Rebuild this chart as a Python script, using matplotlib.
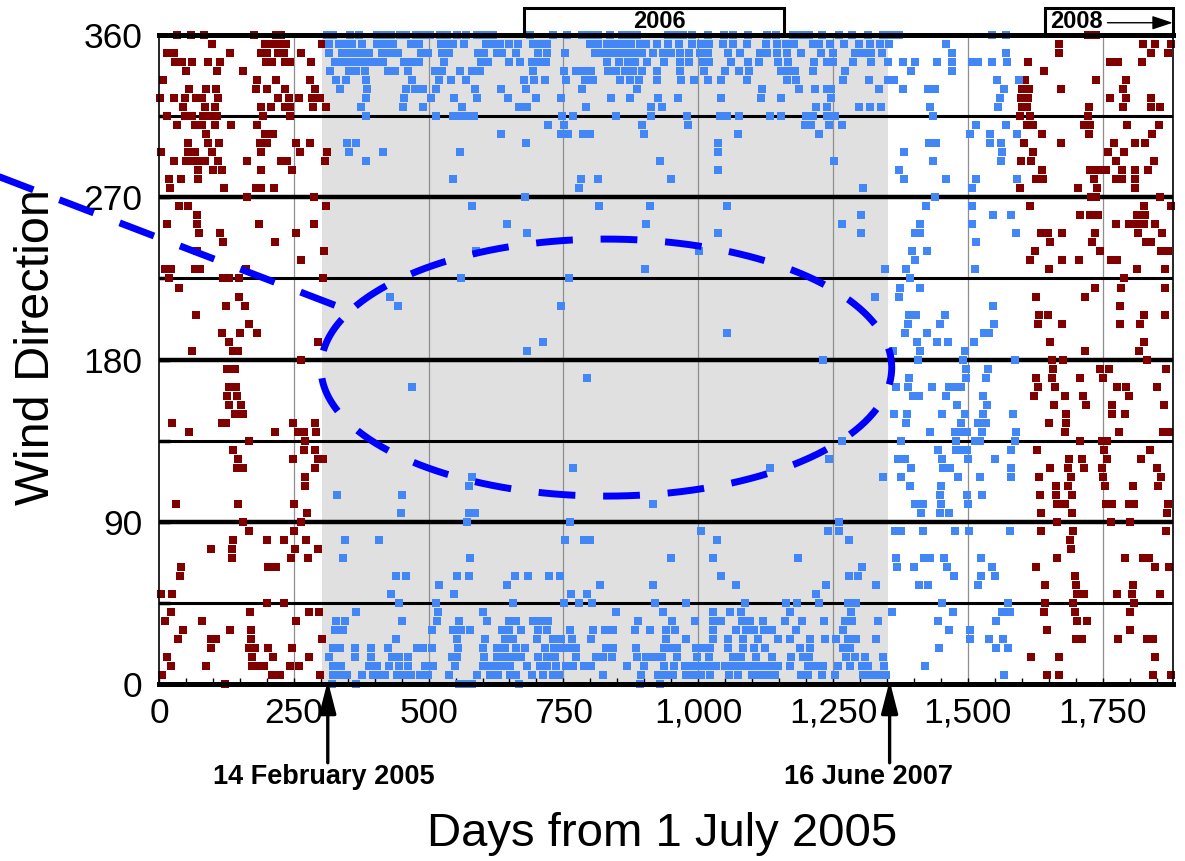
import matplotlib
matplotlib.use("Agg")
import matplotlib.pyplot as plt
import numpy as np
from matplotlib.patches import Rectangle
from matplotlib.ticker import MultipleLocator, FuncFormatter

plt.rcParams['font.family'] = ['Liberation Sans', 'DejaVu Sans']

# Wind direction bins (degrees) and the days on which each was observed
directions = list(range(360, -1, -5))

blue_days = [
    [311, 323, 354, 371, 404, 417, 431, 447, 459, 476, 490, 502, 521, 535, 553, 570, 590, 604, 619, 688, 731, 756,
     785, 799, 814, 836, 858, 872, 886, 944, 958, 972, 988, 1018, 1047, 1065, 1093, 1127, 1145, 1176, 1191, 1206,
     1229, 1261, 1286, 1315, 1343, 1358, 1372, 1544, 1570],                                   # 360
    [315, 334, 348, 358, 376, 404, 419, 434, 467, 483, 523, 535, 546, 566, 606, 617, 632, 650, 666, 694, 706, 719,
     799, 814, 830, 845, 861, 876, 892, 904, 924, 944, 965, 989, 1005, 1020, 1046, 1064, 1090, 1125, 1146, 1162,
     1177, 1212, 1224, 1245, 1271, 1298, 1318, 1337, 1354, 1460],                             # 355
    [316, 340, 352, 365, 376, 390, 413, 428, 444, 485, 499, 524, 538, 592, 603, 626, 637, 663, 703, 719, 753, 808,
     822, 837, 852, 866, 881, 895, 916, 935, 950, 966, 983, 1004, 1018, 1056, 1077, 1114, 1128, 1146, 1164, 1191,
     1227, 1250, 1290, 1306, 1321, 1340, 1470, 1571],                                         # 350
    [326, 339, 354, 366, 379, 394, 407, 416, 455, 468, 483, 528, 598, 611, 649, 669, 691, 703, 718, 830, 853, 870,
     882, 905, 936, 967, 983, 1008, 1020, 1060, 1093, 1113, 1148, 1167, 1214, 1238, 1250, 1287, 1320, 1352, 1379,
     1402, 1442, 1470, 1507, 1519, 1544, 1573],                                               # 345
    [317, 352, 366, 382, 424, 438, 461, 512, 524, 559, 580, 595, 693, 751, 773, 787, 802, 833, 848, 864, 879, 895,
     923, 966, 1011, 1049, 1075, 1094, 1154, 1167, 1179, 1212, 1272, 1394, 1470],             # 340
    [328, 346, 384, 470, 520, 541, 569, 677, 696, 716, 755, 790, 805, 855, 873, 890, 923, 969, 992, 1018, 1043,
     1091, 1164, 1181, 1269, 1316, 1352, 1363, 1554, 1595],                                   # 335
    [336, 385, 459, 475, 489, 513, 586, 635, 680, 785, 887, 1119, 1187, 1216, 1238, 1247, 1335, 1380, 1426, 1439,
     1567],                                                                                   # 330
    [384, 455, 504, 547, 589, 648, 699, 746, 839, 874, 926, 963, 1043, 1116, 1153, 1247, 1559],  # 325
    [374, 452, 490, 562, 667, 682, 792, 912, 933, 1219, 1238, 1298, 1318, 1339, 1429, 1556],      # 320
    [384, 513, 545, 555, 569, 584, 748, 768, 847, 912, 980, 1041, 1054, 1075, 1133, 1153, 1200, 1213, 1239,
     1253, 1436],                                                                             # 315
    [721, 751, 895, 981, 1198, 1210, 1243, 1266, 1516, 1570],                                 # 310
    [634, 746, 759, 787, 799, 899, 1073, 1224, 1505, 1542, 1592],                             # 305
    [349, 365, 680, 1037, 1428, 1441, 1541, 1562],                                            # 300
    [352, 416, 558, 1036, 1381, 1564],                                                        # 295
    [383, 930, 1251, 1436, 1561],                                                             # 290
    [1037, 1372],                                                                             # 285
    [546, 782, 814, 949, 1382, 1460, 1515, 1591],                                             # 280
    [779, 1306, 1507],                                                                        # 275
    [679, 1439],                                                                              # 270
    [580, 816, 910, 1053, 1423, 1508],                                                        # 265
    [1301, 1547, 1581],                                                                       # 260
    [646, 903, 1266, 1411, 1508],                                                             # 255
    [682, 1037, 1301, 1402, 1412, 1590],                                                      # 250
    [1515],                                                                                   # 245
    [587, 1002, 1397, 1424],                                                                  # 240
    [1402],                                                                                   # 235
    [902, 1346, 1385, 1513],                                                                  # 230
    [561, 761, 1392],                                                                         # 225
    [1375, 1411],                                                                             # 220
    [428, 1328, 1373],                                                                        # 215
    [444, 745, 1547],                                                                         # 210
    [1391, 1403, 1458],                                                                       # 205
    [1389, 1448, 1548],                                                                       # 200
    [1054, 1383, 1425, 1530, 1539],                                                           # 195
    [713, 1405, 1442, 1463, 1511],                                                            # 190
    [683, 1361, 1412, 1494],                                                                  # 185
    [1232, 1407, 1492, 1587],                                                                 # 180
    [1496, 1538],                                                                             # 175
    [794, 1391, 1496, 1533],                                                                  # 170
    [470, 1366, 1389, 1434, 1466, 1478, 1488],                                                # 165
    [1399, 1410, 1459, 1529],                                                                 # 160
    [1480, 1535],                                                                             # 155
    [1363, 1387, 1453, 1494, 1528, 1584],                                                     # 150
    [1386, 1488, 1519, 1533],                                                                 # 145
    [1429, 1476, 1488, 1499, 1527, 1589],                                                     # 140
    [1267, 1376, 1479, 1513, 1522, 1587],                                                     # 135
    [1444, 1478, 1490, 1499, 1580],                                                           # 130
    [1242, 1371, 1383, 1452, 1500, 1550],                                                     # 125
    [767, 1134, 1395, 1454, 1467, 1581],                                                      # 120
    [581, 1343, 1377, 1482, 1522, 1581],                                                      # 115
    [574, 1392, 1450],                                                                        # 110
    [331, 450, 1449, 1499, 1526],                                                             # 105
    [916, 1402, 1417, 1451, 1500],                                                            # 100
    [448, 574, 586, 1414, 1449, 1466],                                                        # 95
    [572, 762, 1261],                                                                         # 90
    [1006, 1241, 1261, 1365, 1377, 1417, 1476, 1502, 1578],                                   # 85
    [345, 408, 753, 789, 799, 1034, 1280],                                                    # 80
    [],                                                                                       # 75
    [342, 577, 950, 1028, 1185, 1366, 1419, 1429, 1455, 1524],                                # 70
    [1303, 1369, 1400, 1462, 1544],                                                           # 65
    [439, 458, 553, 575, 661, 684, 723, 743, 1042, 1279, 1297, 1474, 1525, 1551],             # 60
    [519, 646, 818, 916, 1071, 1237, 1329, 1410, 1426, 1518],                                 # 55
    [431, 548, 765, 793, 1218],                                                               # 50
    [445, 513, 657, 751, 779, 803, 919, 977, 1086, 1162, 1183, 1224, 1278, 1293, 1453, 1575], # 45
    [366, 518, 600, 848, 935, 1028, 1059, 1079, 1170, 1284, 1360, 1473, 1564, 1578],          # 40
    [329, 345, 450, 516, 557, 609, 649, 662, 693, 706, 722, 889, 952, 994, 1028, 1043, 1082, 1096, 1120,
     1161, 1193, 1233, 1272, 1286, 1334, 1445, 1553],                                         # 35
    [326, 342, 507, 545, 561, 577, 637, 650, 671, 703, 719, 763, 805, 827, 842, 882, 910, 941, 957, 1028,
     1071, 1088, 1103, 1122, 1136, 1182, 1268, 1466, 1504],                                   # 30
    [439, 552, 604, 642, 657, 701, 730, 745, 766, 802, 941, 978, 1028, 1055, 1083, 1111, 1148, 1170, 1207,
     1235, 1256, 1278, 1292, 1329, 1504, 1539, 1565],                                         # 25
    [322, 336, 363, 393, 424, 478, 490, 507, 555, 600, 626, 642, 662, 679, 716, 732, 745, 761, 774, 829, 842,
     884, 936, 949, 961, 995, 1008, 1022, 1056, 1083, 1104, 1124, 1188, 1207, 1268, 1281, 1447, 1553, 1575],  # 20
    [316, 363, 393, 433, 446, 462, 543, 553, 603, 626, 642, 657, 672, 703, 719, 734, 774, 810, 824, 841, 887,
     904, 918, 932, 961, 997, 1020, 1065, 1080, 1107, 1136, 1173, 1195, 1206, 1275, 1290, 1309, 1343],  # 15
    [323, 337, 390, 405, 427, 446, 462, 493, 509, 549, 601, 611, 623, 637, 651, 682, 706, 720, 736, 755, 767,
     788, 802, 868, 900, 936, 955, 975, 989, 1003, 1018, 1033, 1049, 1064, 1077, 1091, 1105, 1119, 1133, 1148,
     1171, 1204, 1218, 1232, 1259, 1281, 1303, 1315, 1345, 1421],                             # 10
    [322, 334, 348, 377, 397, 410, 419, 441, 453, 468, 484, 499, 538, 589, 614, 629, 651, 663, 691, 713, 731,
     742, 824, 894, 926, 940, 954, 978, 991, 1006, 1022, 1057, 1074, 1099, 1113, 1128, 1142, 1191, 1204, 1229,
     1253, 1306, 1319, 1334, 1348, 1567],                                                     # 5
    [321, 365, 557, 570, 581, 668, 892, 930],                                                 # 0
]

red_days = [
    [34, 59, 83, 176, 217, 226, 1722, 1738],                                  # 360
    [98, 197, 209, 224, 235, 302, 1669, 1825, 1848, 1877],                    # 355
    [14, 28, 132, 190, 201, 221, 231, 263, 1670, 1840, 1871],                 # 350
    [30, 43, 61, 90, 114, 198, 209, 234, 243, 282, 1612, 1763, 1779, 1823],   # 345
    [50, 107, 156, 1641],                                                     # 340
    [7, 181, 217, 280, 1607, 1738, 1794],                                     # 335
    [56, 87, 106, 179, 201, 234, 290, 1601, 1613, 1672, 1787],                # 330
    [2, 27, 48, 69, 80, 109, 221, 242, 260, 283, 298, 1599, 1612, 1763, 1794, 1839],  # 325
    [45, 85, 103, 190, 208, 234, 243, 285, 310, 1601, 1610, 1725, 1788, 1840, 1856],  # 320
    [14, 48, 62, 82, 95, 107, 193, 243, 1596, 1615, 1723],                    # 315
    [33, 67, 80, 104, 133, 181, 1609, 1621, 1715, 1727, 1795, 1855],          # 310
    [87, 197, 212, 1638, 1724, 1842],                                         # 305
    [54, 91, 111, 187, 200, 255, 280, 1604, 1672, 1771, 1811, 1828],          # 300
    [3, 54, 67, 99, 190, 261, 311, 1621, 1760, 1789],                         # 295
    [28, 51, 61, 76, 85, 110, 163, 227, 238, 308, 1599, 1618, 1774, 1845],    # 290
    [73, 101, 116, 189, 247, 1638, 1727, 1741, 1757, 1786, 1811, 1835],       # 285
    [19, 41, 73, 1627, 1640, 1734, 1774, 1786, 1810],                         # 280
    [20, 121, 180, 190, 214, 1596, 1704, 1740, 1810],                         # 275
    [164, 287, 1728, 1738, 1857],                                             # 270
    [38, 53, 309, 1615, 1826, 1877],                                          # 265
    [70, 1708, 1726, 1742, 1813, 1828],                                       # 260
    [15, 71, 185, 287, 1774, 1799, 1812, 1827, 1847],                         # 255
    [75, 113, 255, 1636, 1649, 1674, 1735, 1816, 1861],                       # 250
    [119, 215, 1653, 1731, 1831, 1840],                                       # 245
    [70, 306, 1624, 1745, 1859, 1871],                                        # 240
    [264, 1616, 1675, 1706, 1766, 1777],                                      # 235
    [11, 22, 67, 76, 161, 1651, 1813, 1865],                                  # 230
    [18, 119, 129, 149, 305, 1790],                                           # 225
    [37, 1735, 1785, 1865],                                                   # 220
    [148, 1626, 1717],                                                        # 215
    [125, 159, 1783],                                                         # 210
    [68, 1632, 1649, 1826, 1866],                                             # 205
    [166, 1630, 1675, 1782, 1820],                                            # 200
    [116, 151, 181],                                                          # 195
    [130, 294, 1653, 1827],                                                   # 190
    [61, 138, 147, 1718, 1817],                                               # 185
    [264, 1657, 1677, 1832],                                                  # 180
    [127, 141, 1658, 1746, 1762, 1868],                                       # 175
    [1626, 1657, 1709, 1750],                                                 # 170
    [130, 143, 1630, 1661, 1777, 1793, 1850],                                 # 165
    [127, 144, 1622, 1680, 1714, 1799],                                       # 160
    [129, 152, 1660, 1720, 1768, 1863],                                       # 155
    [141, 155, 1683, 1768, 1792],                                             # 150
    [25, 116, 125, 248, 290, 1651, 1683],                                     # 145
    [56, 216, 257, 269, 292, 1681, 1780, 1862, 1874],                         # 140
    [167, 271, 1709, 1748, 1759],                                             # 135
    [138, 268, 289, 1628, 1752, 1837],                                        # 130
    [147, 249, 294, 305, 1687, 1711, 1759, 1821],                             # 125
    [145, 155, 290, 1652, 1686, 1716, 1748, 1851],                            # 120
    [271, 1632, 1692, 1751, 1859],                                            # 115
    [271, 1664, 1686, 1754, 1806, 1853],                                      # 110
    [1633, 1663, 1693],                                                       # 105
    [32, 146, 251, 1666, 1680, 1756, 1768, 1799, 1809, 1871],                 # 100
    [274, 1635, 1693, 1869],                                                  # 95
    [156, 263, 1665, 1765, 1800],                                             # 90
    [167, 250, 1635, 1695, 1868],                                             # 85
    [137, 201, 232, 273, 1689],                                               # 80
    [96, 135, 252, 295, 1691],                                                # 75
    [136, 245, 276, 1666, 1791, 1825, 1836],                                  # 70
    [40, 203, 217, 1627, 1847, 1874],                                         # 65
    [39, 1698],                                                               # 60
    [1643, 1700, 1806],                                                       # 55
    [3, 25, 1703, 1715, 1777, 1805, 1856],                                    # 50
    [200, 232, 1644, 1696, 1808],                                             # 45
    [22, 168, 278, 297, 1641, 1698, 1801],                                    # 40
    [12, 80, 255, 1703, 1721],                                                # 35
    [45, 132, 170, 1646, 1801],                                               # 30
    [36, 96, 105, 171, 303, 1700, 1711, 1779, 1833, 1843],                    # 25
    [96, 167, 178, 203, 246],                                                 # 20
    [14, 173, 211, 279, 1617, 1669, 1848],                                    # 15
    [23, 88, 172, 184, 195, 243, 260],                                        # 10
    [6, 209, 224, 298, 1647, 1670, 1843, 1876],                               # 5
    [122],                                                                    # 0
]

x_ticks = [0, 250, 500, 750, 1000, 1250, 1500, 1750]
y_ticks = [0, 90, 180, 270, 360]
period_start, period_end = 303, 1352
event_days = [313, 1355]
event_labels = ['14 February 2005', '16 June 2007']


def flatten(rows):
    xs, ys = [], []
    for d, days in zip(directions, rows):
        xs.extend(days)
        ys.extend([d] * len(days))
    return np.array(xs), np.array(ys)


bx, by = flatten(blue_days)
rx, ry = flatten(red_days)

W, H = 1185, 861
fig = plt.figure(figsize=(W / 100, H / 100), dpi=100)
ax = fig.add_axes([159 / W, 1 - 684.3 / H, (1172.7 - 159) / W, (684.3 - 35) / H])
ax.set_xlim(0, 1880)
ax.set_ylim(0, 360)

# shaded period and grid
ax.axvspan(period_start, period_end, color='#e0e0e0', lw=0, zorder=0)
for x in x_ticks[1:]:
    ax.axvline(x, color='#8f8f8f', lw=0.9, zorder=1)
for y in (45, 135, 225, 315):
    ax.axhline(y, color='black', lw=2.2, zorder=2)
for y in (90, 180, 270):
    ax.axhline(y, color='black', lw=3.2, zorder=2)

ax.scatter(rx, ry, marker='s', s=36, color='#800000', linewidths=0, zorder=3, clip_on=False)
ax.scatter(bx, by, marker='s', s=36, color='#4287f5', linewidths=0, zorder=3, clip_on=False)

for side in ('top', 'bottom'):
    ax.spines[side].set_linewidth(3.6)
    ax.spines[side].set_zorder(5)
for side in ('left', 'right'):
    ax.spines[side].set_linewidth(1.2)
    ax.spines[side].set_zorder(5)

ax.set_xticks(x_ticks)
ax.xaxis.set_minor_locator(MultipleLocator(50))
ax.xaxis.set_major_formatter(FuncFormatter(lambda v, p: f"{int(v):,}"))
ax.set_yticks(y_ticks)
ax.set_yticks([45, 135, 225, 315], minor=True)
ax.tick_params(axis='x', which='both', direction='in', length=4, width=1, labelsize=25.5, pad=9)
ax.tick_params(axis='y', which='both', direction='in', length=8, width=2.5, labelsize=25.5, pad=12)

ax.set_xlabel('Days from 1 July 2005', fontsize=34, va='center')
ax.xaxis.set_label_coords(0.496, -0.2306)
ax.set_ylabel('Wind Direction', fontsize=35, va='center')
ax.yaxis.set_label_coords(-0.1213, 0.5195)

# year boxes above the plot
ax.add_patch(Rectangle((676.7, 360), 482, 14.8, fill=False, lw=2.2, ec='black',
                       clip_on=False, zorder=6))
ax.text(929, 367.7, '2006', fontsize=17, fontweight='bold', ha='center', va='center', zorder=6)
ax.add_patch(Rectangle((1642.6, 360), 1880 - 1642.6, 14.8, fill=False, lw=2.2, ec='black',
                       clip_on=False, zorder=6))
ax.text(1701, 367.5, '2008', fontsize=17, fontweight='bold', ha='center', va='center', zorder=6)
ax.annotate('', xy=(1880, 366.8), xytext=(1759, 366.8), annotation_clip=False,
            arrowprops=dict(arrowstyle='-|>,head_length=0.9,head_width=0.3', lw=1,
                            color='black', mutation_scale=14, shrinkA=0, shrinkB=0))

# event arrows below the axis
label_x = [306, 1316]
for d, lab, lx in zip(event_days, event_labels, label_x):
    ax.annotate('', xy=(d, 2), xytext=(d, -43.5), annotation_clip=False,
                arrowprops=dict(arrowstyle='-|>,head_length=1.4,head_width=0.36', lw=2.4,
                                color='black', mutation_scale=14, shrinkA=0, shrinkB=0))
    ax.text(lx, -51.5, lab, fontsize=19.5, fontweight='bold', ha='center', va='center',
            clip_on=False)

# dashed callout: a pointer line running into an ellipse
cx, cy, a, b = 829.6, 175.6, 529.3, 71.25
t0 = np.deg2rad(153.9)
t = np.linspace(t0, t0 + 2 * np.pi, 500)
px = np.r_[-332.0, cx + a * np.cos(t)]
py = np.r_[285.5, cy + b * np.sin(t)]
ax.plot(px, py, color='#0000ff', lw=5, ls=(0, (5.3, 4.0)), dash_capstyle='butt',
        clip_on=False, zorder=7)

fig.savefig('out.png', dpi=100)
